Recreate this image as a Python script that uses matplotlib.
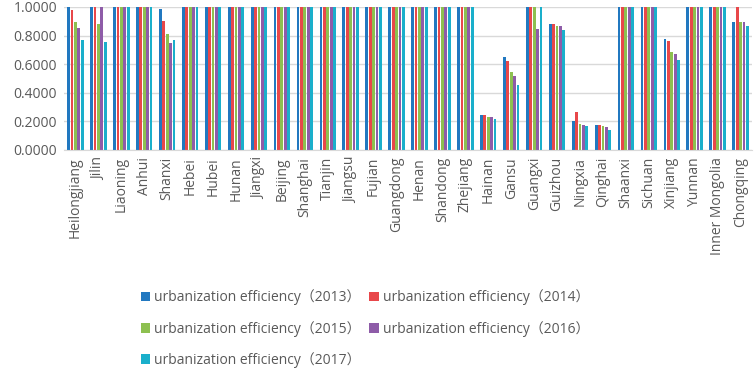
import matplotlib.pyplot as plt
import numpy as np

provinces = ["Heilongjiang", "Jilin", "Liaoning", "Anhui", "Shanxi", "Hebei", "Hubei",
             "Hunan", "Jiangxi", "Beijing", "Shanghai", "Tianjin", "Jiangsu", "Fujian",
             "Guangdong", "Henan", "Shandong", "Zhejiang", "Hainan", "Gansu", "Guangxi",
             "Guizhou", "Ningxia", "Qinghai", "Shaanxi", "Sichuan", "Xinjiang", "Yunnan",
             "Inner Mongolia", "Chongqing"]

eff_2013 = [1.0, 1.0, 1.0, 1.0, 0.988, 1.0, 1.0, 1.0, 1.0, 1.0, 1.0, 1.0, 1.0, 1.0, 1.0,
            1.0, 1.0, 1.0, 0.247, 0.647, 1.0, 0.878, 0.201, 0.177, 1.0, 1.0, 0.776, 1.0,
            1.0, 0.897]
eff_2014 = [0.980, 1.0, 1.0, 1.0, 0.902, 1.0, 1.0, 1.0, 1.0, 1.0, 1.0, 1.0, 1.0, 1.0, 1.0,
            1.0, 1.0, 1.0, 0.247, 0.624, 1.0, 0.878, 0.266, 0.175, 1.0, 1.0, 0.762, 1.0,
            1.0, 1.0]
eff_2015 = [0.893, 0.883, 1.0, 1.0, 0.808, 1.0, 1.0, 1.0, 1.0, 1.0, 1.0, 1.0, 1.0, 1.0, 1.0,
            1.0, 1.0, 1.0, 0.233, 0.547, 1.0, 0.869, 0.182, 0.166, 1.0, 1.0, 0.687, 1.0,
            1.0, 0.897]
eff_2016 = [0.855, 1.0, 1.0, 1.0, 0.748, 1.0, 1.0, 1.0, 1.0, 1.0, 1.0, 1.0, 1.0, 1.0, 1.0,
            1.0, 1.0, 1.0, 0.229, 0.519, 0.848, 0.867, 0.177, 0.161, 1.0, 1.0, 0.671, 1.0,
            1.0, 0.897]
eff_2017 = [0.766, 0.755, 1.0, 1.0, 0.771, 1.0, 1.0, 1.0, 1.0, 1.0, 1.0, 1.0, 1.0, 1.0, 1.0,
            1.0, 1.0, 1.0, 0.219, 0.458, 1.0, 0.839, 0.168, 0.140, 1.0, 1.0, 0.631, 1.0,
            1.0, 0.864]

years = ["2013", "2014", "2015", "2016", "2017"]
series = [eff_2013, eff_2014, eff_2015, eff_2016, eff_2017]
colors = ["#2178C0", "#E8474A", "#8DC050", "#8E5CA8", "#1AAFCB"]

plt.rcParams['font.family'] = ['Open Sans', 'Noto Sans CJK SC', 'DejaVu Sans']

fig = plt.figure(figsize=(7.54, 3.68), dpi=100)
ax = fig.add_axes([64 / 754, 1 - 150 / 368, 688 / 754, 143 / 368])

x = np.arange(len(provinces))
slot = 0.148
for i, (vals, c, yr) in enumerate(zip(series, colors, years)):
    ax.bar(x + (i - 2) * slot, vals, width=0.122, color=c,
           label="urbanization efficiency（" + yr + "）")

ax.set_xlim(-0.5, len(provinces) - 0.5)
ax.set_ylim(0, 1.0)
ax.set_yticks(np.arange(0, 1.01, 0.2))
ax.set_yticklabels([f"{v:.4f}" for v in np.arange(0, 1.01, 0.2)], fontsize=10, color="#595959")
ax.set_xticks(x)
ax.set_xticklabels(provinces, rotation=90, fontsize=10, color="#595959")
ax.tick_params(length=0, pad=5)
ax.grid(axis="y", color="#D9D9D9", linewidth=1)
ax.set_axisbelow(True)
for s in ["top", "right", "left"]:
    ax.spines[s].set_visible(False)
ax.spines["bottom"].set_color("#D9D9D9")

# legend reads row by row in the reference
handles, labels = ax.get_legend_handles_labels()
order = [0, 2, 4, 1, 3]
fig.legend([handles[k] for k in order], [labels[k] for k in order], ncol=2,
           loc="upper left", bbox_to_anchor=(128 / 754, 1 - 277 / 368),
           frameon=False, fontsize=10, handlelength=0.7, handleheight=0.7,
           handletextpad=0.3, columnspacing=0.6, labelspacing=1.1, labelcolor="#595959")

fig.savefig("out.png", dpi=100)
